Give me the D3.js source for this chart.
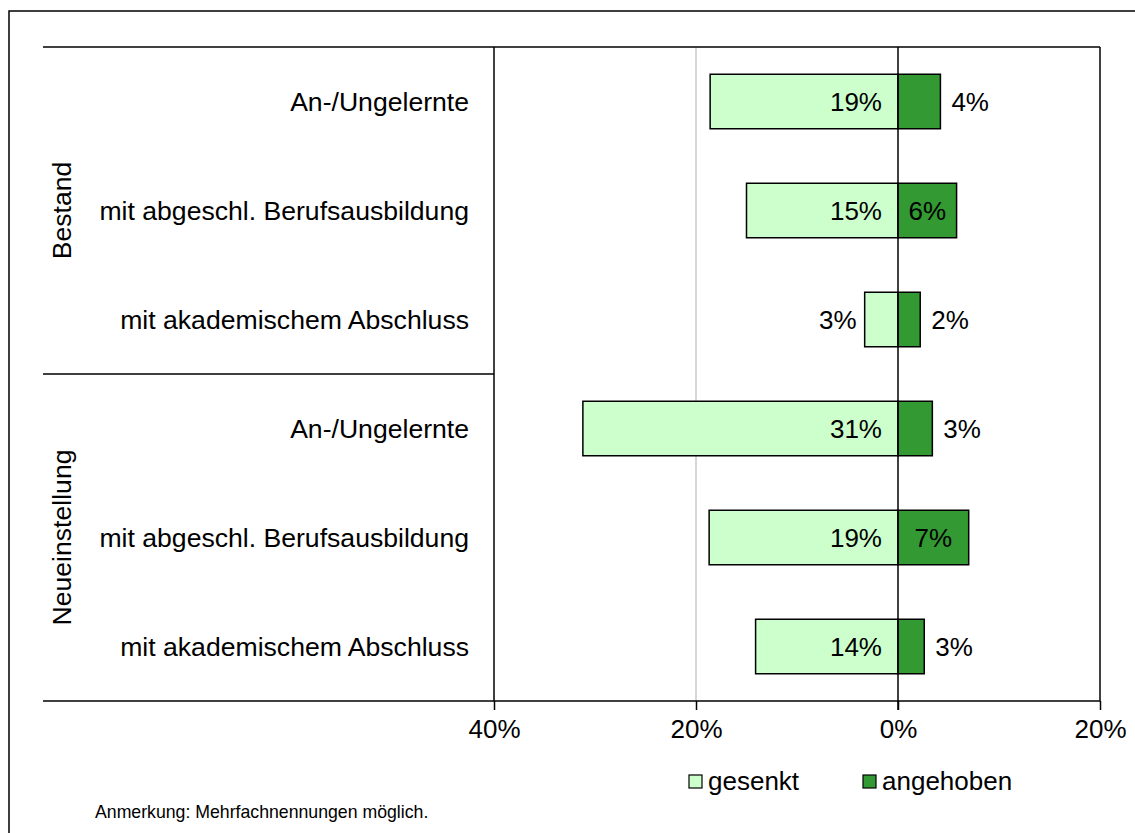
<!DOCTYPE html>
<html>
<head>
<meta charset="utf-8">
<script src="https://cdn.jsdelivr.net/npm/d3@7"></script>
<style>
	body { margin: 0; background: #fff; }
	text { font-family: "Liberation Sans", Arial, sans-serif; fill: #000; }
</style>
</head>
<body>
<div id="chart"></div>
<script>
// data
const categories = ["An-/Ungelernte", "mit abgeschl. Berufsausbildung", "mit akademischem Abschluss",
	"An-/Ungelernte", "mit abgeschl. Berufsausbildung", "mit akademischem Abschluss"];
const groups = ["Bestand", "Bestand", "Bestand", "Neueinstellung", "Neueinstellung", "Neueinstellung"];
const groupNames = ["Bestand", "Neueinstellung"];
const gesenkt = [18.6, 15.0, 3.3, 31.2, 18.7, 14.1];
const angehoben = [4.2, 5.8, 2.2, 3.4, 7.0, 2.6];
const gesenktLabels = ["19%", "15%", "3%", "31%", "19%", "14%"];
const angehobenLabels = ["4%", "6%", "2%", "3%", "7%", "3%"];
const tickValues = [-40, -20, 0, 20];
const tickLabels = ["40%", "20%", "0%", "20%"];
const seriesNames = ["gesenkt", "angehoben"];

const lightGreen = "#ccffcc";
const darkGreen = "#339933";

const width = 1135, height = 833;
const plot = { left: 494, right: 1100, top: 47, bottom: 701 };
const fontSize = "26px";

let svg = d3.select("#chart").append("svg").attr("width", width).attr("height", height);

// outer frame (right and bottom edges fall outside the picture)
svg.append("rect").attr("x", 9).attr("y", 11).attr("width", 1300).attr("height", 1000)
	.attr("fill", "none").attr("stroke", "#000").attr("stroke-width", 1.5);

let x = d3.scaleLinear().domain([-40, 20]).range([plot.left, plot.right]);
let y = d3.scaleBand().domain(d3.range(categories.length)).range([plot.top, plot.bottom]).paddingInner(0.5).paddingOuter(0.25);
let band = d3.scaleBand().domain(d3.range(categories.length)).range([plot.top, plot.bottom]);

// grid line at 20% (left side)
svg.append("line").attr("x1", x(-20)).attr("x2", x(-20)).attr("y1", plot.top).attr("y2", plot.bottom)
	.attr("stroke", "#c8c8c8").attr("stroke-width", 1.5);

// bars
svg.selectAll(".bar-down").data(gesenkt).enter().append("rect")
	.attr("class", "bar-down")
	.attr("x", (d) => x(-d))
	.attr("y", (d, i) => y(i))
	.attr("width", (d) => x(0) - x(-d))
	.attr("height", y.bandwidth())
	.attr("fill", lightGreen).attr("stroke", "#000").attr("stroke-width", 1.5);

svg.selectAll(".bar-up").data(angehoben).enter().append("rect")
	.attr("class", "bar-up")
	.attr("x", x(0))
	.attr("y", (d, i) => y(i))
	.attr("width", (d) => x(d) - x(0))
	.attr("height", y.bandwidth())
	.attr("fill", darkGreen).attr("stroke", "#000").attr("stroke-width", 1.5);

// bar labels
svg.selectAll(".lab-down").data(gesenkt).enter().append("text")
	.attr("class", "lab-down")
	.attr("x", (d) => (d > 5 ? x(0) - 16 : x(-d) - 8))
	.attr("y", (d, i) => y(i) + y.bandwidth() / 2)
	.attr("dy", "0.35em")
	.attr("text-anchor", "end")
	.style("font-size", fontSize)
	.text((d, i) => gesenktLabels[i]);

svg.selectAll(".lab-up").data(angehoben).enter().append("text")
	.attr("class", "lab-up")
	.attr("x", (d) => (d > 5 ? (x(0) + x(d)) / 2 : x(d) + 11))
	.attr("y", (d, i) => y(i) + y.bandwidth() / 2)
	.attr("dy", "0.35em")
	.attr("text-anchor", (d) => (d > 5 ? "middle" : "start"))
	.style("font-size", fontSize)
	.text((d, i) => angehobenLabels[i]);

// zero line and plot borders
svg.append("line").attr("x1", x(0)).attr("x2", x(0)).attr("y1", plot.top).attr("y2", plot.bottom + 9)
	.attr("stroke", "#000").attr("stroke-width", 1.5);
svg.append("line").attr("x1", plot.right).attr("x2", plot.right).attr("y1", plot.top).attr("y2", plot.bottom)
	.attr("stroke", "#000").attr("stroke-width", 1.5);
svg.append("line").attr("x1", plot.left).attr("x2", plot.left).attr("y1", plot.top).attr("y2", plot.bottom)
	.attr("stroke", "#000").attr("stroke-width", 1.5);

// horizontal lines: top, group separator
svg.append("line").attr("x1", 43).attr("x2", plot.right).attr("y1", plot.top).attr("y2", plot.top)
	.attr("stroke", "#000").attr("stroke-width", 1.5);
svg.append("line").attr("x1", 43).attr("x2", plot.left).attr("y1", band(3)).attr("y2", band(3))
	.attr("stroke", "#000").attr("stroke-width", 1.5);

// x axis
let xAxis = d3.axisBottom(x).tickValues(tickValues).tickSize(9).tickPadding(10)
	.tickFormat((d, i) => tickLabels[i]);
let gx = svg.append("g").attr("transform", `translate(0,${plot.bottom})`).call(xAxis);
gx.select(".domain").remove();
gx.selectAll(".tick line").attr("stroke", "#000").attr("stroke-width", 1.5);
gx.selectAll(".tick text").style("font-size", fontSize).attr("font-family", null).attr("fill", "#000");
svg.append("line").attr("x1", 43).attr("x2", plot.right).attr("y1", plot.bottom).attr("y2", plot.bottom)
	.attr("stroke", "#000").attr("stroke-width", 1.5);

// category labels
svg.selectAll(".cat").data(categories).enter().append("text")
	.attr("class", "cat")
	.attr("x", 469)
	.attr("y", (d, i) => band(i) + band.bandwidth() / 2)
	.attr("dy", "0.35em")
	.attr("text-anchor", "end")
	.style("font-size", "26.6px")
	.text((d) => d);

// group labels (rotated)
groupNames.forEach((g) => {
	let idx = groups.map((v, i) => (v === g ? i : -1)).filter((i) => i >= 0);
	let cy = (band(idx[0]) + band(idx[idx.length - 1]) + band.bandwidth()) / 2;
	svg.append("text")
		.attr("transform", `translate(62,${cy}) rotate(-90)`)
		.attr("dy", "0.35em")
		.attr("text-anchor", "middle")
		.style("font-size", "26.6px")
		.text(g);
});

// legend
let legendX = [689, 863];
let legend = svg.append("g").selectAll("g").data(seriesNames).enter().append("g")
	.attr("transform", (d, i) => `translate(${legendX[i]},775)`);
legend.append("rect").attr("width", 13).attr("height", 13)
	.attr("fill", (d, i) => (i === 0 ? lightGreen : darkGreen))
	.attr("stroke", "#000").attr("stroke-width", 1.2);
legend.append("text").attr("x", 19).attr("y", 6).attr("dy", "0.35em")
	.style("font-size", fontSize).text((d) => d);

// note
svg.append("text").attr("x", 95).attr("y", 812).attr("dy", "0.35em")
	.style("font-size", "17.7px").text("Anmerkung: Mehrfachnennungen möglich.");
</script>
</body>
</html>
